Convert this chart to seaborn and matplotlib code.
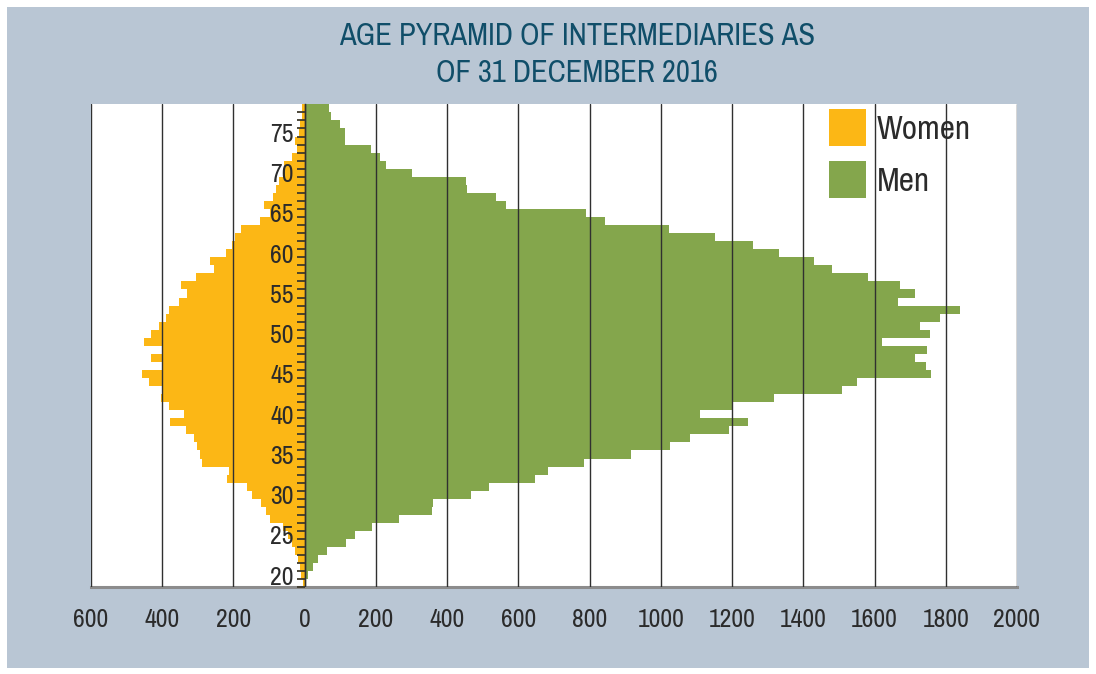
import matplotlib
matplotlib.use('Agg')
import matplotlib.pyplot as plt
import seaborn as sns
import pandas as pd
from matplotlib.patches import Patch, Rectangle
from matplotlib.ticker import FixedLocator, FuncFormatter

# age groups (one bar per year of age)
ages = list(range(19, 79))
women = [6, 10, 14, 20, 27, 35, 48, 62, 98, 108,
         122, 148, 162, 218, 212, 287, 293, 303, 312, 333,
         378, 338, 382, 404, 401, 436, 457, 401, 431, 401,
         451, 431, 408, 389, 380, 353, 331, 346, 304, 254,
         265, 222, 203, 195, 178, 125, 98, 113, 90, 80,
         73, 57, 57, 37, 23, 28, 17, 12, 7, 7]
men = [3, 8, 24, 37, 63, 116, 140, 188, 265, 358,
       361, 467, 518, 648, 682, 785, 916, 1026, 1083, 1191,
       1244, 1111, 1201, 1317, 1509, 1551, 1759, 1745, 1714, 1746,
       1621, 1755, 1728, 1783, 1840, 1666, 1715, 1672, 1582, 1481,
       1429, 1331, 1258, 1152, 1022, 842, 791, 564, 538, 457,
       453, 300, 229, 211, 187, 114, 114, 100, 74, 67]
x_ticks = list(range(-600, 2001, 200))
y_labels = [20, 25, 30, 35, 40, 45, 50, 55, 60, 65, 70, 75]

YELLOW = '#FCB715'
GREEN = '#84A64C'
BLUE_BG = '#B9C6D4'
TITLE_COL = '#104E69'
TXT = '#2b2b2b'

sns.set_theme(style='white')
# condensed face like the original, falls back to DejaVu if none is there
plt.rcParams['font.family'] = ['Archivo Narrow', 'Roboto Condensed', 'Liberation Sans Narrow', 'DejaVu Sans']

fig = plt.figure(figsize=(10.96, 6.74), dpi=100)
fig.patch.set_facecolor('white')
fig.add_artist(Rectangle((7/1096, 6/674), 1082/1096, 661/674, transform=fig.transFigure,
                         facecolor=BLUE_BG, edgecolor='none', zorder=-10))

ax = fig.add_axes([91/1096, 1 - 587.3/674, 926/1096, (587.3 - 104.3)/674])
ax.set_facecolor('white')

df_w = pd.DataFrame({'age': ages, 'count': [-v for v in women]})
df_m = pd.DataFrame({'age': ages, 'count': men})
sns.barplot(data=df_w, x='count', y='age', orient='h', native_scale=True, width=1,
            color=YELLOW, saturation=1, linewidth=0, errorbar=None, ax=ax)
sns.barplot(data=df_m, x='count', y='age', orient='h', native_scale=True, width=1,
            color=GREEN, saturation=1, linewidth=0, errorbar=None, ax=ax)

ax.set_xlim(-600, 2000)
ax.set_ylim(18.5, 78.5)
ax.set_xlabel('')
ax.set_ylabel('')
ax.set_axisbelow(False)

# x axis
ax.set_xticks(x_ticks)
ax.xaxis.set_major_formatter(FuncFormatter(lambda v, p: f'{abs(int(v))}'))
ax.tick_params(axis='x', length=0, pad=15, labelsize=18.5, labelcolor=TXT)
ax.xaxis.grid(True, color='#303030', lw=1.0)
ax.yaxis.grid(False)

# y axis sits on zero
ax.spines['left'].set_position(('data', 0))
ax.spines['left'].set_color('#333333')
ax.spines['left'].set_linewidth(1.0)
ax.spines['bottom'].set_color('#8c8c8c')
ax.spines['bottom'].set_linewidth(2.2)
ax.spines['top'].set_visible(False)
ax.spines['right'].set_visible(False)

ax.set_yticks(y_labels)
ax.yaxis.set_minor_locator(FixedLocator([a + 0.5 for a in range(18, 78)]))
ax.tick_params(axis='y', which='major', length=0, pad=8, labelsize=18.5, labelcolor=TXT)
ax.tick_params(axis='y', which='minor', length=6, width=1.3, color='#3f3a2c', direction='out', left=True)

# legend
handles = [Patch(facecolor=YELLOW, edgecolor='none', label='Women'),
           Patch(facecolor=GREEN, edgecolor='none', label='Men')]
ax.legend(handles=handles, frameon=False, loc='upper left',
          bbox_to_anchor=(829/1096, 1 - 109/674), bbox_transform=fig.transFigure,
          fontsize=24, handlelength=1.11, handleheight=1.33, handletextpad=0.33,
          labelspacing=0.45, borderpad=0, borderaxespad=0, labelcolor=TXT)

fig.text(577/1096, 1 - 54.5/674, 'AGE PYRAMID OF INTERMEDIARIES AS\nOF 31 DECEMBER 2016',
         ha='center', va='center', fontsize=22, color=TITLE_COL, linespacing=1.4)

fig.savefig('out.png', dpi=100)
